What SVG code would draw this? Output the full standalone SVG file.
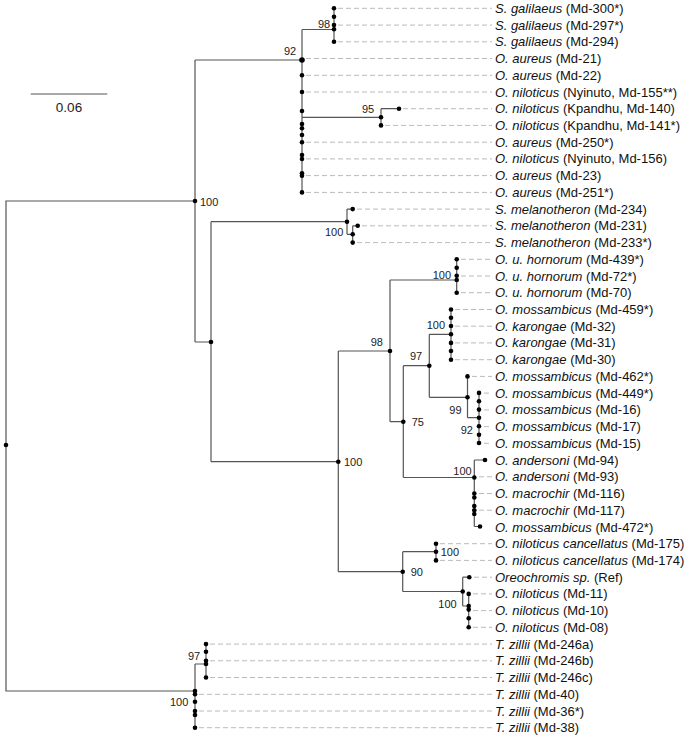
<svg xmlns="http://www.w3.org/2000/svg" width="685" height="735" viewBox="0 0 685 735">
<style>
.br{fill:none;stroke:#555;stroke-width:1.2}
.ds{stroke:#bbb;stroke-width:1;stroke-dasharray:5,3}
.lb{font-family:"Liberation Sans",Arial,sans-serif;font-size:13px;fill:#111}
.lb tspan.i{font-style:italic}
.sp{font-family:"Liberation Sans",Arial,sans-serif;font-size:11px;fill:#222}
.sc{font-family:"Liberation Sans",Arial,sans-serif;font-size:13.5px;fill:#222}
circle{fill:#000}
</style>
<rect width="685" height="735" fill="#fff"/>
<g id="scale">
<line x1="30.7" y1="94" x2="107.3" y2="94" stroke="#555" stroke-width="1.2"/>
<text class="sc" x="69" y="111.5" text-anchor="middle">0.06</text>
</g>
<g id="connectors">
<path class="br" d="M195,201H6V691H195"/>
<path class="br" d="M195,664V727.7M195,664H206M206,644.1V677.5"/>
<path class="br" d="M195,60V342M195,60H302M195,342H211M211,221.7V461.7M211,221.7H347"/>
<path class="br" d="M302,29.5V192.4M302,29.5H334M334,8.3V41.8"/>
<path class="br" d="M302,117.3H381M381,108.7V125.4M381,108.7H399"/>
<path class="br" d="M347,209.1V234.3M347,209.1H352.7M347,234.3H352.7M352.7,225.8V242.6M352.7,225.8H357.7"/>
<path class="br" d="M211,461.7H338.3M338.3,351V571.7M338.3,351H390M390,280V421.7M390,280H456.7M456.7,259.3V292.7"/>
<path class="br" d="M390,421.7H403.3M403.3,365.7V477.5M403.3,365.7H429.3M429.3,334.3V397.3M429.3,334.3H451M451,309.5V359.7"/>
<path class="br" d="M429.3,397.3H467.5M467.5,376.4V417.7M467.5,417.7H479M479,392.9V443.3"/>
<path class="br" d="M403.3,477.5H474.3M474.3,460V526.5M474.3,460H485M474.3,526.5H480"/>
<path class="br" d="M338.3,571.7H402.7M402.7,551.7V591.5M402.7,551.7H436M436,543.7V560.4"/>
<path class="br" d="M402.7,591.5H462.7M462.7,577.2V606M462.7,577.2H469.3M462.7,606H468.7M468.7,593.9V627.3"/>
</g>
<g id="internal-nodes">
<g id="n-root"><circle cx="6" cy="445" r="2.3"/></g>
<g id="n-100a"><circle cx="195" cy="201" r="2.3"/><text class="sp" x="200" y="205.5">100</text></g>
<g id="n-b"><circle cx="211" cy="342" r="2.3"/></g>
<g id="n-92"><circle cx="302" cy="60" r="2.8"/><text class="sp" x="284" y="55">92</text>
<circle cx="302" cy="75.3" r="2.3"/><circle cx="302" cy="92" r="2.3"/><circle cx="302" cy="111" r="2.3"/><circle cx="302" cy="124" r="2.3"/><circle cx="302" cy="128.3" r="2.3"/><circle cx="302" cy="135" r="2.3"/><circle cx="302" cy="142.2" r="2.3"/><circle cx="302" cy="155" r="2.3"/><circle cx="302" cy="159" r="2.3"/><circle cx="302" cy="173.3" r="2.3"/><circle cx="302" cy="175.7" r="2.3"/><circle cx="302" cy="192.4" r="2.3"/></g>
<g id="n-98a"><text class="sp" x="318" y="28">98</text>
<circle cx="334" cy="8.3" r="2.3"/><circle cx="334" cy="16.7" r="2.3"/><circle cx="334" cy="25.1" r="2.3"/><circle cx="334" cy="29.3" r="2.3"/><circle cx="334" cy="41.8" r="2.3"/></g>
<g id="n-95"><text class="sp" x="362" y="113">95</text><circle cx="381" cy="117.3" r="2.3"/><circle cx="381" cy="125.4" r="2.3"/><circle cx="399" cy="108.7" r="2.3"/></g>
<g id="n-100b"><text class="sp" x="325" y="236">100</text><circle cx="347" cy="221.7" r="2.3"/><circle cx="352.7" cy="209.1" r="2.3"/><circle cx="357.7" cy="225.8" r="2.3"/><circle cx="352.7" cy="234.3" r="2.3"/><circle cx="352.7" cy="242.6" r="2.3"/></g>
<g id="n-100c"><text class="sp" x="432.7" y="279">100</text><circle cx="456.7" cy="259.3" r="2.3"/><circle cx="456.7" cy="267.7" r="2.3"/><circle cx="456.7" cy="275.7" r="2.3"/><circle cx="456.7" cy="280" r="2.3"/><circle cx="456.7" cy="292.7" r="2.3"/></g>
<g id="n-98b"><circle cx="390" cy="351" r="2.3"/><text class="sp" x="370.7" y="346">98</text></g>
<g id="n-100d"><text class="sp" x="426.7" y="329">100</text><circle cx="451" cy="309.5" r="2.3"/><circle cx="451" cy="317.7" r="2.3"/><circle cx="451" cy="326" r="2.3"/><circle cx="451" cy="334.3" r="2.3"/><circle cx="451" cy="342.9" r="2.3"/><circle cx="451" cy="351" r="2.3"/><circle cx="451" cy="359.7" r="2.3"/></g>
<g id="n-97a"><circle cx="429.3" cy="365.7" r="2.3"/><text class="sp" x="410" y="360">97</text></g>
<g id="n-75"><circle cx="403.3" cy="421.7" r="2.3"/><text class="sp" x="411.7" y="426">75</text></g>
<g id="n-99"><circle cx="467.5" cy="376.4" r="2.3"/><circle cx="467.5" cy="397.3" r="2.3"/><text class="sp" x="449.3" y="414.3">99</text></g>
<g id="n-92b"><text class="sp" x="460.7" y="434.3">92</text><circle cx="479" cy="392.9" r="2.3"/><circle cx="479" cy="401.2" r="2.3"/><circle cx="479" cy="409.6" r="2.3"/><circle cx="479" cy="417.7" r="2.3"/><circle cx="479" cy="426.3" r="2.3"/><circle cx="479" cy="434.7" r="2.3"/><circle cx="479" cy="443" r="2.3"/></g>
<g id="n-100e"><circle cx="338.3" cy="461.7" r="2.3"/><text class="sp" x="344" y="465.7">100</text></g>
<g id="n-100f"><text class="sp" x="453.3" y="475">100</text><circle cx="485" cy="460" r="2.3"/><circle cx="474.3" cy="477.5" r="2.3"/><circle cx="474.3" cy="493.5" r="2.3"/><circle cx="474.3" cy="497.5" r="2.3"/><circle cx="474.3" cy="506" r="2.3"/><circle cx="474.3" cy="510.2" r="2.3"/><circle cx="474.3" cy="514" r="2.3"/><circle cx="480" cy="526.5" r="2.3"/></g>
<g id="n-90"><circle cx="402.7" cy="571.7" r="2.3"/><text class="sp" x="410.7" y="576">90</text></g>
<g id="n-100g"><circle cx="436" cy="543.7" r="2.3"/><circle cx="436" cy="551.7" r="2.3"/><circle cx="436" cy="560.4" r="2.3"/><text class="sp" x="440.7" y="555.7">100</text></g>
<g id="n-100h"><circle cx="462.7" cy="591.5" r="2.3"/><text class="sp" x="438.3" y="608.3">100</text><circle cx="469.3" cy="577.2" r="2.3"/><circle cx="468.7" cy="593.9" r="2.3"/><circle cx="468.7" cy="606" r="2.3"/><circle cx="468.7" cy="609.6" r="2.3"/><circle cx="468.7" cy="618.3" r="2.3"/><circle cx="468.7" cy="627.3" r="2.3"/></g>
<g id="n-97b"><text class="sp" x="188" y="660">97</text><circle cx="206" cy="644.1" r="2.3"/><circle cx="206" cy="651.7" r="2.3"/><circle cx="206" cy="660.8" r="2.3"/><circle cx="206" cy="664" r="2.3"/><circle cx="206" cy="677.5" r="2.3"/></g>
<g id="n-100i"><text class="sp" x="170" y="706">100</text><circle cx="195" cy="691" r="2.3"/><circle cx="195" cy="694.3" r="2.3"/><circle cx="195" cy="701.7" r="2.3"/><circle cx="195" cy="711" r="2.3"/><circle cx="195" cy="715" r="2.3"/><circle cx="195" cy="727.7" r="2.3"/></g>
</g>
<g id="leaves">
<g id="l1"><line class="ds" x1="338" y1="8.3" x2="492" y2="8.3"/><text class="lb" x="495" y="12.8"><tspan class="i">S. galilaeus</tspan> (Md-300*)</text></g>
<g id="l2"><line class="ds" x1="338" y1="25.1" x2="492" y2="25.1"/><text class="lb" x="495" y="29.6"><tspan class="i">S. galilaeus</tspan> (Md-297*)</text></g>
<g id="l3"><line class="ds" x1="338" y1="41.8" x2="492" y2="41.8"/><text class="lb" x="495" y="46.3"><tspan class="i">S. galilaeus</tspan> (Md-294)</text></g>
<g id="l4"><line class="ds" x1="306" y1="58.5" x2="492" y2="58.5"/><text class="lb" x="495" y="63"><tspan class="i">O. aureus</tspan> (Md-21)</text></g>
<g id="l5"><line class="ds" x1="306" y1="75.3" x2="492" y2="75.3"/><text class="lb" x="495" y="79.8"><tspan class="i">O. aureus</tspan> (Md-22)</text></g>
<g id="l6"><line class="ds" x1="306" y1="92" x2="492" y2="92"/><text class="lb" x="495" y="96.5"><tspan class="i">O. niloticus</tspan> (Nyinuto, Md-155**)</text></g>
<g id="l7"><line class="ds" x1="403" y1="108.7" x2="492" y2="108.7"/><text class="lb" x="495" y="113.2"><tspan class="i">O. niloticus</tspan> (Kpandhu, Md-140)</text></g>
<g id="l8"><line class="ds" x1="385" y1="125.4" x2="492" y2="125.4"/><text class="lb" x="495" y="129.9"><tspan class="i">O. niloticus</tspan> (Kpandhu, Md-141*)</text></g>
<g id="l9"><line class="ds" x1="306" y1="142.2" x2="492" y2="142.2"/><text class="lb" x="495" y="146.7"><tspan class="i">O. aureus</tspan> (Md-250*)</text></g>
<g id="l10"><line class="ds" x1="306" y1="158.9" x2="492" y2="158.9"/><text class="lb" x="495" y="163.4"><tspan class="i">O. niloticus</tspan> (Nyinuto, Md-156)</text></g>
<g id="l11"><line class="ds" x1="306" y1="175.6" x2="492" y2="175.6"/><text class="lb" x="495" y="180.1"><tspan class="i">O. aureus</tspan> (Md-23)</text></g>
<g id="l12"><line class="ds" x1="306" y1="192.4" x2="492" y2="192.4"/><text class="lb" x="495" y="196.9"><tspan class="i">O. aureus</tspan> (Md-251*)</text></g>
<g id="l13"><line class="ds" x1="357" y1="209.1" x2="492" y2="209.1"/><text class="lb" x="495" y="213.6"><tspan class="i">S. melanotheron</tspan> (Md-234)</text></g>
<g id="l14"><line class="ds" x1="362" y1="225.8" x2="492" y2="225.8"/><text class="lb" x="495" y="230.3"><tspan class="i">S. melanotheron</tspan> (Md-231)</text></g>
<g id="l15"><line class="ds" x1="357" y1="242.6" x2="492" y2="242.6"/><text class="lb" x="495" y="247.1"><tspan class="i">S. melanotheron</tspan> (Md-233*)</text></g>
<g id="l16"><line class="ds" x1="461" y1="259.3" x2="492" y2="259.3"/><text class="lb" x="495" y="263.8"><tspan class="i">O. u. hornorum</tspan> (Md-439*)</text></g>
<g id="l17"><line class="ds" x1="461" y1="276" x2="492" y2="276"/><text class="lb" x="495" y="280.5"><tspan class="i">O. u. hornorum</tspan> (Md-72*)</text></g>
<g id="l18"><line class="ds" x1="461" y1="292.7" x2="492" y2="292.7"/><text class="lb" x="495" y="297.2"><tspan class="i">O. u. hornorum</tspan> (Md-70)</text></g>
<g id="l19"><line class="ds" x1="455" y1="309.5" x2="492" y2="309.5"/><text class="lb" x="495" y="314"><tspan class="i">O. mossambicus</tspan> (Md-459*)</text></g>
<g id="l20"><line class="ds" x1="455" y1="326.2" x2="492" y2="326.2"/><text class="lb" x="495" y="330.7"><tspan class="i">O. karongae</tspan> (Md-32)</text></g>
<g id="l21"><line class="ds" x1="455" y1="342.9" x2="492" y2="342.9"/><text class="lb" x="495" y="347.4"><tspan class="i">O. karongae</tspan> (Md-31)</text></g>
<g id="l22"><line class="ds" x1="455" y1="359.7" x2="492" y2="359.7"/><text class="lb" x="495" y="364.2"><tspan class="i">O. karongae</tspan> (Md-30)</text></g>
<g id="l23"><line class="ds" x1="472" y1="376.4" x2="492" y2="376.4"/><text class="lb" x="495" y="380.9"><tspan class="i">O. mossambicus</tspan> (Md-462*)</text></g>
<g id="l24"><line class="ds" x1="484" y1="393.1" x2="492" y2="393.1"/><text class="lb" x="495" y="397.6"><tspan class="i">O. mossambicus</tspan> (Md-449*)</text></g>
<g id="l25"><line class="ds" x1="484" y1="409.9" x2="492" y2="409.9"/><text class="lb" x="495" y="414.4"><tspan class="i">O. mossambicus</tspan> (Md-16)</text></g>
<g id="l26"><line class="ds" x1="484" y1="426.6" x2="492" y2="426.6"/><text class="lb" x="495" y="431.1"><tspan class="i">O. mossambicus</tspan> (Md-17)</text></g>
<g id="l27"><line class="ds" x1="484" y1="443.3" x2="492" y2="443.3"/><text class="lb" x="495" y="447.8"><tspan class="i">O. mossambicus</tspan> (Md-15)</text></g>
<g id="l28"><text class="lb" x="495" y="464.5"><tspan class="i">O. andersoni</tspan> (Md-94)</text></g>
<g id="l29"><line class="ds" x1="479" y1="476.8" x2="492" y2="476.8"/><text class="lb" x="495" y="481.3"><tspan class="i">O. andersoni</tspan> (Md-93)</text></g>
<g id="l30"><line class="ds" x1="479" y1="493.5" x2="492" y2="493.5"/><text class="lb" x="495" y="498"><tspan class="i">O. macrochir</tspan> (Md-116)</text></g>
<g id="l31"><line class="ds" x1="479" y1="510.2" x2="492" y2="510.2"/><text class="lb" x="495" y="514.7"><tspan class="i">O. macrochir</tspan> (Md-117)</text></g>
<g id="l32"><text class="lb" x="495" y="531.5"><tspan class="i">O. mossambicus</tspan> (Md-472*)</text></g>
<g id="l33"><line class="ds" x1="440" y1="543.7" x2="492" y2="543.7"/><text class="lb" x="495" y="548.2"><tspan class="i">O. niloticus cancellatus</tspan> (Md-175)</text></g>
<g id="l34"><line class="ds" x1="440" y1="560.4" x2="492" y2="560.4"/><text class="lb" x="495" y="564.9"><tspan class="i">O. niloticus cancellatus</tspan> (Md-174)</text></g>
<g id="l35"><line class="ds" x1="474" y1="577.2" x2="492" y2="577.2"/><text class="lb" x="495" y="581.7"><tspan class="i">Oreochromis sp.</tspan> (Ref)</text></g>
<g id="l36"><line class="ds" x1="473" y1="593.9" x2="492" y2="593.9"/><text class="lb" x="495" y="598.4"><tspan class="i">O. niloticus</tspan> (Md-11)</text></g>
<g id="l37"><line class="ds" x1="473" y1="610.6" x2="492" y2="610.6"/><text class="lb" x="495" y="615.1"><tspan class="i">O. niloticus</tspan> (Md-10)</text></g>
<g id="l38"><line class="ds" x1="473" y1="627.3" x2="492" y2="627.3"/><text class="lb" x="495" y="631.8"><tspan class="i">O. niloticus</tspan> (Md-08)</text></g>
<g id="l39"><line class="ds" x1="210" y1="644.1" x2="492" y2="644.1"/><text class="lb" x="495" y="648.6"><tspan class="i">T. zillii</tspan> (Md-246a)</text></g>
<g id="l40"><line class="ds" x1="210" y1="660.8" x2="492" y2="660.8"/><text class="lb" x="495" y="665.3"><tspan class="i">T. zillii</tspan> (Md-246b)</text></g>
<g id="l41"><line class="ds" x1="210" y1="677.5" x2="492" y2="677.5"/><text class="lb" x="495" y="682"><tspan class="i">T. zillii</tspan> (Md-246c)</text></g>
<g id="l42"><line class="ds" x1="199" y1="694.3" x2="492" y2="694.3"/><text class="lb" x="495" y="698.8"><tspan class="i">T. zillii</tspan> (Md-40)</text></g>
<g id="l43"><line class="ds" x1="199" y1="711" x2="492" y2="711"/><text class="lb" x="495" y="715.5"><tspan class="i">T. zillii</tspan> (Md-36*)</text></g>
<g id="l44"><line class="ds" x1="199" y1="727.7" x2="492" y2="727.7"/><text class="lb" x="495" y="732.2"><tspan class="i">T. zillii</tspan> (Md-38)</text></g>
</g>
</svg>
